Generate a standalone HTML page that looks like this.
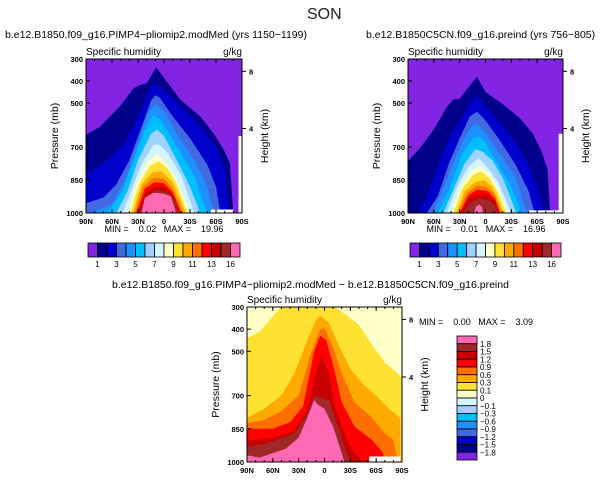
<!DOCTYPE html>
<html><head><meta charset="utf-8">
<style>
html,body{margin:0;padding:0;background:#fff;}
svg{display:block;font-family:"Liberation Sans",sans-serif;}
.pre{white-space:pre;}
</style></head>
<body>
<svg id="chart" width="611" height="481" viewBox="0 0 611 481">
<text x="307" y="19" font-size="16" fill="#222">SON</text>
<text x="5" y="38" font-size="10.5">b.e12.B1850.f09_g16.PIMP4−pliomip2.modMed (yrs 1150−1199)</text>
<text x="366" y="38" font-size="10.5">b.e12.B1850C5CN.f09_g16.preind (yrs 756−805)</text>
<text x="112" y="288" font-size="10.5">b.e12.B1850.f09_g16.PIMP4−pliomip2.modMed − b.e12.B1850C5CN.f09_g16.preind</text>
<g id="layer"></g>
</svg>
<script>
// ---- data ----
const latTicks = [90, 60, 30, 0, -30, -60, -90];
const latTickLabels = ["90N", "60N", "30N", "0", "30S", "60S", "90S"];
const presTicks = [300, 400, 500, 700, 850, 1000];
const heightTicks = [8, 4];
const heightTickPres = [356, 616];
const absColors = ["#8224e3","#00008b","#0000cd","#4169e1","#1e90ff","#00bfff","#a0d2ff","#d2f5ff","#ffffc8","#ffe132","#ffaa00","#ff6e00","#ff0000","#c80000","#a02828","#ff69b4"];
const absLabels = ["1","3","5","7","9","11","13","16"];
const diffColors = ["#ff69b4","#a02828","#c80000","#ff0000","#ff6e00","#ffaa00","#ffe132","#ffffc8","#d2f5ff","#a0d2ff","#00bfff","#1e90ff","#4169e1","#0000cd","#00008b","#8224e3"];
const diffLabels = ["1.8","1.5","1.2","0.9","0.6","0.3","0.1","0","−0.1","−0.3","−0.6","−0.9","−1.2","−1.5","−1.8"];
// contours: [lat, pressure] per level (level index -> color)
const panel1Levels = [
 [[90,645],[74,608],[51,516],[35,433],[28,418],[20,410],[9,338],[1,380],[-19,486],[-42,562],[-57,637],[-69,713],[-76,773],[-80,1000]],
 [[90,822],[75,790],[60,740],[45,680],[30,560],[20,470],[12,410],[5,425],[-10,480],[-25,540],[-45,620],[-60,700],[-70,800],[-75,1000]],
 [[90,955],[70,930],[55,870],[40,760],[25,600],[15,490],[10,465],[5,475],[-10,560],[-30,660],[-50,780],[-60,880],[-65,1000]],
 [[85,1000],[60,960],[45,850],[30,680],[18,540],[10,505],[0,540],[-15,640],[-35,760],[-50,880],[-57,1000]],
 [[65,1000],[48,900],[35,760],[22,620],[12,555],[3,580],[-15,700],[-35,830],[-50,1000]],
 [[55,1000],[42,900],[30,760],[15,640],[8,620],[0,650],[-15,760],[-30,880],[-42,1000]],
 [[48,1000],[38,900],[25,770],[12,690],[5,690],[-5,730],[-20,830],[-35,1000]],
 [[42,1000],[33,880],[20,770],[8,730],[0,760],[-15,850],[-30,1000]],
 [[39,1000],[29,870],[16,785],[6,765],[-5,800],[-15,870],[-27,1000]],
 [[36,1000],[26,870],[13,815],[3,810],[-10,860],[-25,1000]],
 [[34,1000],[24,880],[12,840],[0,845],[-10,890],[-22,1000]],
 [[32,1000],[22,890],[11,860],[0,865],[-10,905],[-20,1000]],
 [[30,1000],[20,900],[9,880],[-2,885],[-12,930],[-18,1000]],
 [[28,1000],[20,920],[9,898],[-4,905],[-14,950],[-17,1000]],
 [[26,1000],[22,930],[12,908],[0,912],[-8,925],[-14,1000]]
];
const panel2Levels = [
 [[90,765],[75,700],[60,620],[45,520],[38,485],[30,480],[20,430],[10,380],[0,450],[-20,505],[-40,570],[-55,640],[-65,720],[-72,800],[-75,1000]],
 [[80,1000],[70,940],[55,790],[40,640],[28,570],[18,500],[11,470],[3,500],[-15,580],[-35,680],[-50,780],[-60,880],[-68,1000]],
 [[68,1000],[55,920],[42,770],[30,660],[18,560],[10,540],[2,570],[-15,660],[-35,780],[-50,900],[-57,1000]],
 [[62,1000],[48,880],[35,750],[22,640],[12,590],[3,620],[-15,720],[-35,840],[-48,1000]],
 [[55,1000],[42,890],[28,740],[15,660],[8,650],[0,680],[-15,780],[-30,880],[-42,1000]],
 [[49,1000],[38,900],[25,780],[12,710],[4,720],[-8,760],[-20,840],[-36,1000]],
 [[45,1000],[33,880],[20,790],[8,750],[0,780],[-15,860],[-30,1000]],
 [[40,1000],[30,890],[18,810],[6,785],[-5,820],[-15,890],[-27,1000]],
 [[37,1000],[27,890],[15,830],[5,810],[-5,845],[-15,910],[-24,1000]],
 [[34,1000],[24,900],[12,860],[2,850],[-8,880],[-21,1000]],
 [[32,1000],[22,910],[10,875],[0,880],[-10,910],[-19,1000]],
 [[30,1000],[20,920],[10,895],[-2,900],[-11,935],[-17,1000]],
 [[28,1000],[20,935],[9,915],[-3,920],[-12,950],[-16,1000]],
 [[26,1000],[18,950],[8,935],[-3,940],[-11,965],[-14,1000]],
 [[13,1000],[11,970],[7,962],[4,975],[3,1000]]
];
const panel3Levels = [
 [[90,442],[75,410],[55,320],[50,300],[-12,300],[-25,335],[-40,380],[-55,470],[-70,550],[-85,600],[-90,620],[-90,1000]],
 [[90,800],[70,760],[50,700],[35,600],[20,450],[10,360],[5,340],[-5,370],[-15,460],[-30,580],[-45,650],[-60,700],[-75,760],[-88,800],[-88,1000]],
 [[90,825],[70,810],[50,770],[30,700],[15,500],[5,400],[0,395],[-10,480],[-20,600],[-35,730],[-55,800],[-70,870],[-80,900],[-85,1000]],
 [[90,850],[60,850],[40,820],[25,750],[12,500],[5,430],[-2,450],[-10,560],[-20,730],[-35,840],[-55,900],[-68,960],[-70,1000]],
 [[90,905],[60,890],[35,860],[20,770],[10,600],[3,520],[-5,600],[-12,750],[-25,890],[-35,960],[-45,1000]],
 [[90,930],[70,920],[55,900],[35,870],[20,780],[12,700],[5,710],[-5,720],[-15,830],[-25,950],[-30,1000]],
 [[90,970],[75,980],[60,960],[45,940],[30,890],[20,800],[12,720],[8,740],[0,760],[-10,840],[-20,960],[-23,1000]]
];
const panel3Colors = ["#ffe132","#ffaa00","#ff6e00","#ff0000","#c80000","#a02828","#ff69b4"];
const stats = [["0.02","19.96"],["0.01","16.96"],["0.00","3.09"]];

// ---- drawing ----
const NS = "http://www.w3.org/2000/svg";
const layer = document.getElementById("layer");
function mk(tag, attrs, parent) {
  const e = document.createElementNS(NS, tag);
  for (const k in attrs) e.setAttribute(k, attrs[k]);
  (parent || layer).appendChild(e);
  return e;
}
function drawPanel(id, x0, y0, w, h, bg, levels, colors, whites) {
  const xs = lat => x0 + (90 - lat) / 180 * w;
  const ys = p => y0 + (p - 300) / 700 * h;
  const g = mk("g", {});
  
  
  const bgr = mk("rect", {x: x0, y: y0, width: w, height: h, fill: bg}, g);
  
  
  levels.forEach((pts, i) => {
    const all = pts.concat([[pts[pts.length - 1][0], 1000], [pts[0][0], 1000]]);
    const d = all.map(q => xs(q[0]).toFixed(1) + "," + ys(q[1]).toFixed(1)).join(" ");
    const poly = mk("polygon", {points: d, fill: colors[i]}, g);
    
    
  });
  whites.forEach(r => {
    const wr = mk("rect", {x: xs(r[0]), y: ys(r[2]), width: xs(r[1]) - xs(r[0]), height: ys(r[3]) - ys(r[2]), fill: "#fff"}, g);
    
    
  });
  const fr = mk("rect", {x: x0, y: y0, width: w, height: h, fill: "none", stroke: "#000", "stroke-width": 1}, g);
  
  
  latTicks.forEach((t, i) => {
    mk("line", {x1: xs(t), x2: xs(t), y1: y0 + h, y2: y0 + h - 4, stroke: "#000"}, g);
    mk("line", {x1: xs(t), x2: xs(t), y1: y0, y2: y0 + 4, stroke: "#000"}, g);
    const tx = mk("text", {x: xs(t), y: y0 + h + 11, "font-size": 7.5, "font-weight": "bold", "text-anchor": "middle"}, g);
    tx.textContent = latTickLabels[i];
    
    
  });
  for (let l = 80; l > -90; l -= 10) {
    mk("line", {x1: xs(l), x2: xs(l), y1: y0 + h, y2: y0 + h - 2, stroke: "#000"}, g);
    mk("line", {x1: xs(l), x2: xs(l), y1: y0, y2: y0 + 2, stroke: "#000"}, g);
  }
  presTicks.forEach(p => {
    mk("line", {x1: x0, x2: x0 + 4, y1: ys(p), y2: ys(p), stroke: "#000"}, g);
    const tx = mk("text", {x: x0 - 3, y: ys(p) + 3, "font-size": 7.5, "font-weight": "bold", "text-anchor": "end"}, g);
    tx.textContent = p;
    
    
  });
  heightTicks.forEach((hk, i) => {
    const yy = ys(heightTickPres[i]);
    mk("line", {x1: x0 + w, x2: x0 + w + 4, y1: yy, y2: yy, stroke: "#000"}, g);
    const tx = mk("text", {x: x0 + w + 7, y: yy + 3, "font-size": 7.5, "font-weight": "bold"}, g);
    tx.textContent = hk;
    
    
  });
  const yt = mk("text", {transform: `translate(${x0 - 28},${y0 + h / 2}) rotate(-90)`, "font-size": 10.5, "text-anchor": "middle"}, g);
  yt.textContent = "Pressure (mb)";
  
  
  const rt = mk("text", {transform: `translate(${x0 + w + 26},${y0 + h / 2}) rotate(-90)`, "font-size": 10.5, "text-anchor": "middle"}, g);
  rt.textContent = "Height (km)";
  
  
  const lt = mk("text", {x: x0, y: y0 - 4, "font-size": 10}, g);
  lt.textContent = "Specific humidity";
  
  
  const ut = mk("text", {x: x0 + w, y: y0 - 4, "font-size": 10, "text-anchor": "end"}, g);
  ut.textContent = "g/kg";
  
  
  return {xs, ys};
}
function hColorbar(id, x0, y0, w, h, colors, labels) {
  const bw = w / colors.length;
  colors.forEach((c, i) => {
    const r = mk("rect", {x: x0 + i * bw, y: y0, width: bw, height: h, fill: c, stroke: "#000", "stroke-width": 0.8});
    
    
  });
  labels.forEach((l, i) => {
    const t = mk("text", {x: x0 + (1 + 2 * i) * bw, y: y0 + h + 10, "font-size": 8, "text-anchor": "middle"});
    t.textContent = l;
    
    
  });
}
function vColorbar(id, x0, y0, w, h, colors, labels) {
  const bh = h / colors.length;
  colors.forEach((c, i) => {
    const r = mk("rect", {x: x0, y: y0 + i * bh, width: w, height: bh, fill: c, stroke: "#000", "stroke-width": 0.8});
    
    
  });
  labels.forEach((l, i) => {
    const t = mk("text", {x: x0 + w + 3, y: y0 + (i + 1) * bh + 3, "font-size": 8});
    t.textContent = l;
    
    
  });
}
function statText(id, x, y, s, anchor) {
  const t = mk("text", {x: x, y: y, "font-size": 9, "text-anchor": anchor, "class": "pre"});
  t.textContent = "MIN =    " + s[0] + "   MAX =    " + s[1];
  
  
}
drawPanel("panel1", 86, 59, 156, 154, absColors[0], panel1Levels, absColors.slice(1), [[-54,-80,984,1000],[-86,-90,650,1000]]);
drawPanel("panel2", 408, 59, 155, 154, absColors[0], panel2Levels, absColors.slice(1), [[-50,-90,988,1000],[-85,-90,640,1000]]);
drawPanel("panel3", 247, 307, 155, 155, "#ffffc8", panel3Levels, panel3Colors, [[-52,-88,975,1000]]);
statText("panel1-min-max", 164, 232, stats[0], "middle");
statText("panel2-min-max", 486, 232, stats[1], "middle");
statText("panel3-min-max", 419, 325, stats[2], "start");
hColorbar("panel1-colorbar", 88, 243, 152, 14, absColors, absLabels);
hColorbar("panel2-colorbar", 410, 243, 151, 14, absColors, absLabels);
vColorbar("panel3-colorbar", 457, 336, 20, 124, diffColors, diffLabels);
</script>
</body></html>
